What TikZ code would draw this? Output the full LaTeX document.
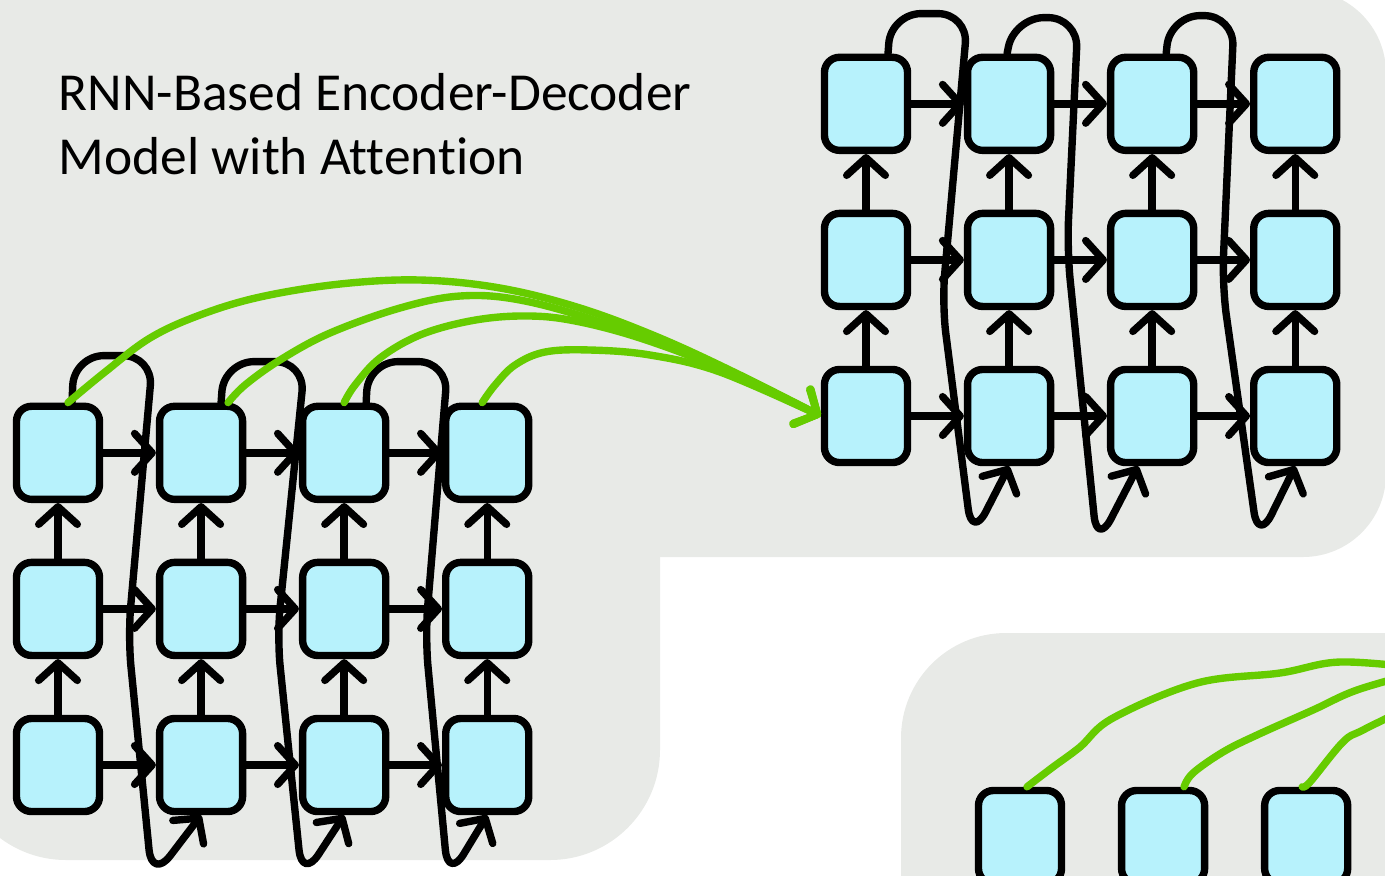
\documentclass[tikz,border=0pt]{standalone}
\usepackage{fontspec}
\setmainfont{Carlito}[Ligatures=NoCommon]
\usetikzlibrary{positioning,arrows.meta,calc}

\definecolor{panelgray}{RGB}{232,234,231}
\definecolor{cellblue}{RGB}{183,242,252}
\definecolor{attngreen}{RGB}{102,204,0}

\begin{document}
\begin{tikzpicture}[x=0.01cm,y=0.01cm,on grid,node distance=1.56cm and 1.43cm,
    >={Straight Barb[length=5pt,width=11pt,round]}]

  \tikzset{
    cell/.style={draw,line width=2.1pt,fill=cellblue,rounded corners=1.5mm,
      minimum width=8.3mm,minimum height=9.3mm,inner sep=0pt},
    wire/.style={draw,->,line width=2.1pt,line cap=round,line join=round},
    attn/.style={wire,draw=attngreen,line width=2.1pt},
    loopy/.style={wire,rounded corners=3mm},
  }

  \useasboundingbox (0,0) rectangle (1385,-875);
  \clip (0,0) rectangle (1385,-875);

  % panels
  \fill[panelgray,rounded corners=8.3mm] (-100,10) rectangle (1386,-557);
  \fill[panelgray,rounded corners=11mm] (-44,-300) rectangle (660,-860);
  \fill[panelgray,rounded corners=10.5mm] (901,-633) rectangle (1500,-1000);

  \node[anchor=north west,align=left,inner sep=0pt,
    font=\fontsize{15.2}{18.2}\selectfont] (title) at (58,-73)
    {RNN-Based Encoder-Decoder\\Model with Attention};

  % ENCODER

  \node[cell] (e31) at (58,-765) {};
  \node[cell] (e32) [right=of e31] {};
  \node[cell] (e33) [right=of e32] {};
  \node[cell] (e34) [right=of e33] {};
  \node[cell] (e21) [above=of e31] {};
  \node[cell] (e22) [above=of e32] {};
  \node[cell] (e23) [above=of e33] {};
  \node[cell] (e24) [above=of e34] {};
  \node[cell] (e11) [above=of e21] {};
  \node[cell] (e12) [above=of e22] {};
  \node[cell] (e13) [above=of e23] {};
  \node[cell] (e14) [above=of e24] {};

  \path[wire] (e31) edge (e32) (e32) edge (e33) (e33) edge (e34);
  \path[wire] (e21) edge (e22) (e22) edge (e23) (e23) edge (e24);
  \path[wire] (e11) edge (e12) (e12) edge (e13) (e13) edge (e14);
  \path[wire] (e31) edge (e21) (e32) edge (e22) (e33) edge (e23) (e34) edge (e24);
  \path[wire] (e21) edge (e11) (e22) edge (e12) (e23) edge (e13) (e24) edge (e14);

  \draw[loopy] ($(e11.north)+(14,0)$) to ($(e11.north)+(16,47)$) to
    ($(e11.north)+(95,47)$) to ($(e11.north)+(70,-234)$) to
    ($(e11.north)+(94,-477)$) to (e32.south);
  \draw[loopy] ($(e12.north)+(20,0)$) to ($(e12.north)+(23,41)$) to
    ($(e12.north)+(104,41)$) to ($(e12.north)+(76,-234)$) to
    ($(e12.north)+(101,-477)$) to (e33.south);
  \draw[loopy] ($(e13.north)+(22,0)$) to ($(e13.north)+(24,41)$) to
    ($(e13.north)+(104,41)$) to ($(e13.north)+(81,-234)$) to
    ($(e13.north)+(104,-477)$) to (e34.south);

  % DECODER

  \node[cell] (d31) at (866,-416) {};
  \node[cell] (d32) [right=of d31] {};
  \node[cell] (d33) [right=of d32] {};
  \node[cell] (d34) [right=of d33] {};
  \node[cell] (d21) [above=of d31] {};
  \node[cell] (d22) [above=of d32] {};
  \node[cell] (d23) [above=of d33] {};
  \node[cell] (d24) [above=of d34] {};
  \node[cell] (d11) [above=of d21] {};
  \node[cell] (d12) [above=of d22] {};
  \node[cell] (d13) [above=of d23] {};
  \node[cell] (d14) [above=of d24] {};

  \path[wire] (d31) edge (d32) (d32) edge (d33) (d33) edge (d34);
  \path[wire] (d21) edge (d22) (d22) edge (d23) (d23) edge (d24);
  \path[wire] (d11) edge (d12) (d12) edge (d13) (d13) edge (d14);
  \path[wire] (d31) edge (d21) (d32) edge (d22) (d33) edge (d23) (d34) edge (d24);
  \path[wire] (d21) edge (d11) (d22) edge (d12) (d23) edge (d13) (d24) edge (d14);

  \draw[loopy] ($(d11.north)+(22,0)$) to ($(d11.north)+(25,40)$) to
    ($(d11.north)+(102,40)$) to ($(d11.north)+(76,-250)$) to
    ($(d11.north)+(106,-485)$) to (d32.south);
  \draw[loopy] ($(d12.north)+(-2,0)$) to ($(d12.north)+(5,36)$) to
    ($(d12.north)+(69,36)$) to ($(d12.north)+(58,-196)$) to
    ($(d12.north)+(88,-492)$) to ($(d33.south)+(-14,0)$);
  \draw[loopy] ($(d13.north)+(14,0)$) to ($(d13.north)+(18,38)$) to
    ($(d13.north)+(82,38)$) to ($(d13.north)+(70,-232)$) to
    ($(d13.north)+(106,-488)$) to (d34.south);

  % NEXT PANEL

  \node[cell] (h1) at (1020,-837) {};
  \node[cell] (h2) [right=of h1] {};
  \node[cell] (h3) [right=of h2] {};
  \coordinate (out1) at (1420,-668);
  \coordinate (out2) at (1420,-672);
  \coordinate (out3) at (1420,-702);

  % attention

  \draw[attn] plot[smooth,tension=0.6] coordinates {($(e11.north)+(10,0)$)
    (105,-372) (150,-338) (200,-315) (260,-297) (340,-284) (420,-280)
    (500,-288) (580,-308) (660,-338) (740,-375) (d31.west)};
  \draw[attn] plot[smooth,tension=0.6] coordinates {($(e12.north)+(27,0)$)
    (245,-385) (280,-360) (330,-333) (400,-308) (460,-296) (520,-300)
    (600,-322) (700,-360) (d31.west)};
  \draw[attn] plot[smooth,tension=0.6] coordinates {(e13.north)
    (355,-385) (380,-358) (420,-335) (470,-321) (520,-316) (570,-320)
    (640,-338) (730,-372) (d31.west)};
  \draw[attn] plot[smooth,tension=0.6] coordinates {($(e14.north)+(-5,0)$)
    (495,-385) (515,-365) (545,-352) (590,-350) (650,-355) (720,-372)
    (d31.west)};

  \draw[attn,-] plot[smooth,tension=0.6] coordinates {($(h1.north)+(7,0)$)
    (1053,-767) (1080,-747) (1113,-718) (1197,-683) (1280,-673)
    (1340,-662) (out1)};
  \draw[attn,-] plot[smooth,tension=0.6] coordinates {($(h2.north)+(21,0)$)
    (1193,-773) (1223,-752) (1257,-735) (1313,-710) (1357,-690) (out2)};
  \draw[attn,-] plot[smooth,tension=0.6] coordinates {($(h3.north)+(-4,0)$)
    (1310,-782) (1343,-742) (1363,-730) (out3)};
\end{tikzpicture}
\end{document}
